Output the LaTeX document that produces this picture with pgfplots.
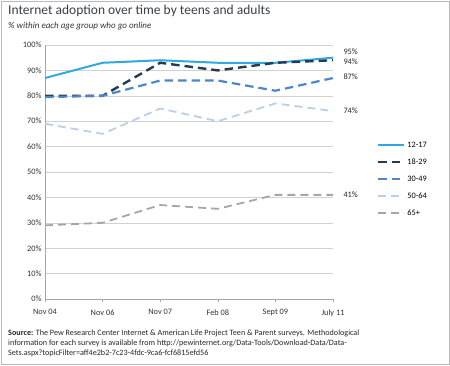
\documentclass[border=0pt]{standalone}
\usepackage{fontspec}
\setmainfont{Carlito}
\usepackage{pgfplots}
\pgfplotsset{compat=1.18}
\definecolor{cA}{HTML}{2FA9E0}
\definecolor{cB}{HTML}{243B55}
\definecolor{cC}{HTML}{4F86C6}
\definecolor{cD}{HTML}{B8D0E8}
\definecolor{cE}{HTML}{A6A6A6}
\definecolor{ttl}{HTML}{363F4A}
\begin{document}
\begin{tikzpicture}[x=1bp,y=1bp]
\useasboundingbox (0,0) rectangle (450,365);
\draw[gray!55, line width=0.8bp] (1,1) rectangle (449,364);
\node[anchor=base west, inner sep=0, text=ttl, font=\fontsize{13.5bp}{15bp}\selectfont] at (8,351) {Internet adoption over time by teens and adults};
\node[anchor=base west, inner sep=0, text=black!80, font=\fontsize{9bp}{10bp}\selectfont\itshape] at (8,337) {\% within each age group who go online};
\node[anchor=north west, inner sep=0, text=black!85, font=\fontsize{8.15bp}{9.6bp}\selectfont, align=left] at (8,35) {\textbf{Source:} The Pew Research Center Internet \& American Life Project Teen \& Parent surveys. Methodological\\information for each survey is available from http://pewinternet.org/Data-Tools/Download-Data/Data-\\Sets.aspx?topicFilter=aff4e2b2-7c23-4fdc-9ca6-fcf6815efd56};
\begin{axis}[
  at={(45bp,66bp)}, anchor=south west,
  scale only axis, width=288bp, height=254bp,
  xmin=0, xmax=5, ymin=0, ymax=100,
  axis x line*=bottom, axis y line*=left,
  axis line style={gray!70, line width=0.6bp},
  xtick={0,1,2,3,4,5},
  xticklabels={Nov 04,Nov 06,Nov 07,Feb 08,Sept 09,July 11},
  ytick={0,10,...,100},
  yticklabel={\pgfmathprintnumber{\tick}\%},
  xtick align=outside, major tick length=3bp,
  xtick style={gray!70, line width=0.6bp},
  ytick style={draw=none},
  ymajorgrids, grid style={gray!35, line width=0.6bp},
  ticklabel style={font=\fontsize{8.3bp}{10bp}\selectfont, text=black!80},
  xticklabel style={yshift=-4bp},
  /pgf/number format/assume math mode=true,
  clip=false,
  legend style={draw=none, fill=none, at={(1.152,0.628)}, anchor=north west,
    font=\fontsize{8.3bp}{10bp}\selectfont, row sep=6bp, inner sep=0pt},
  legend cell align=left,
  legend image code/.code={\draw[#1] (0bp,0bp) -- (26bp,0bp);},
]
\addplot[cA, line width=2bp] coordinates {(0,87) (1,93) (2,94) (3,93) (4,93) (5,95)};
\addplot[cB, line width=2.4bp, dash pattern=on 8.5bp off 5bp] coordinates {(0,80) (1,80) (2,93) (3,90) (4,93) (5,94)};
\addplot[cC, line width=2.2bp, dash pattern=on 8.5bp off 5bp] coordinates {(0,79.5) (1,80) (2,86) (3,86) (4,82) (5,87)};
\addplot[cD, line width=1.8bp, dash pattern=on 8bp off 5bp] coordinates {(0,69) (1,65) (2,75) (3,70) (4,77) (5,74)};
\addplot[cE, line width=1.8bp, dash pattern=on 8bp off 5bp] coordinates {(0,29) (1,30) (2,37) (3,35.5) (4,41) (5,41)};
\legend{12-17,18-29,30-49,50-64,65+}
\node[anchor=west, font=\fontsize{8.3bp}{10bp}\selectfont, text=black!85] at (axis cs:5,97.2) [xshift=7bp] {95\%};
\node[anchor=west, font=\fontsize{8.3bp}{10bp}\selectfont, text=black!85] at (axis cs:5,93.3) [xshift=7bp] {94\%};
\node[anchor=west, font=\fontsize{8.3bp}{10bp}\selectfont, text=black!85] at (axis cs:5,87.5) [xshift=7bp] {87\%};
\node[anchor=west, font=\fontsize{8.3bp}{10bp}\selectfont, text=black!85] at (axis cs:5,74) [xshift=7bp] {74\%};
\node[anchor=west, font=\fontsize{8.3bp}{10bp}\selectfont, text=black!85] at (axis cs:5,41) [xshift=7bp] {41\%};
\end{axis}
\end{tikzpicture}
\end{document}
